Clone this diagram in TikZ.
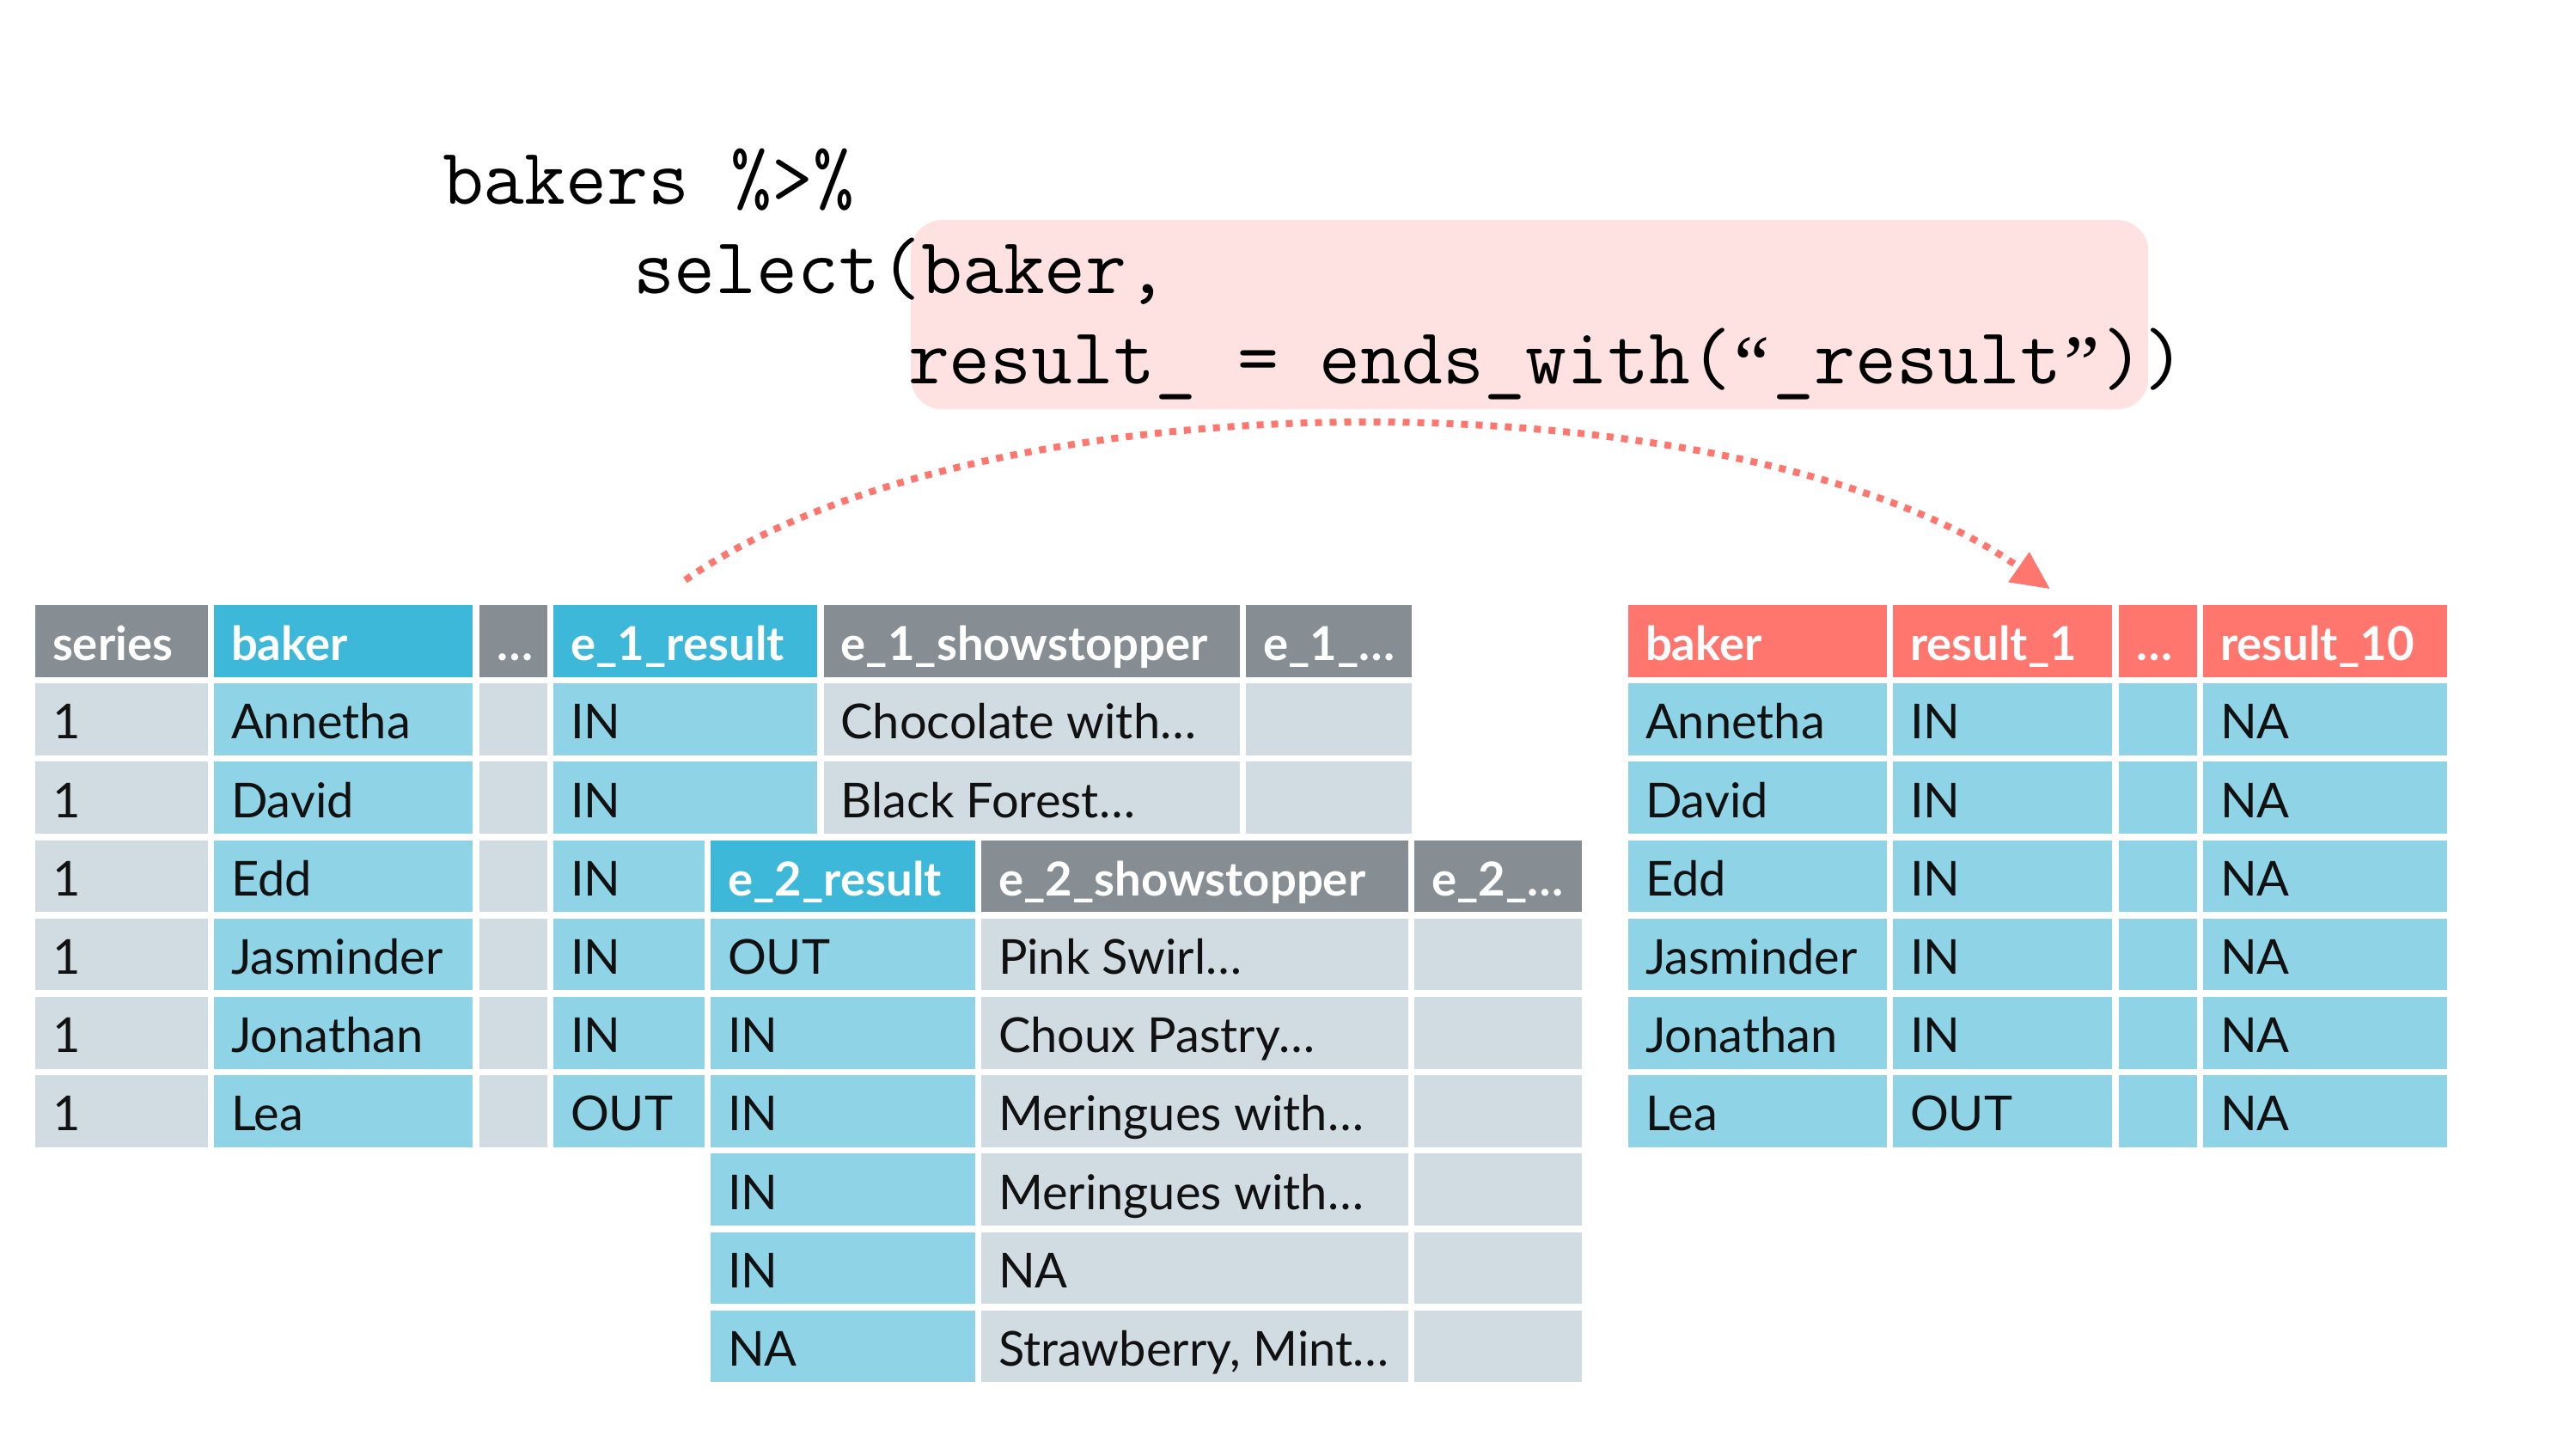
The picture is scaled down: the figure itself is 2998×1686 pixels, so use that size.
\documentclass[tikz,border=0pt]{standalone}
\usepackage{fontspec}
\newfontfamily\lato{Lato}
\newfontfamily\qfont{Liberation Serif}
\usetikzlibrary{arrows.meta}
\definecolor{hgray}{HTML}{868E93}
\definecolor{dgray}{HTML}{D0DCE2}
\definecolor{hblue}{HTML}{3DB8D8}
\definecolor{dblue}{HTML}{8FD4E6}
\definecolor{hred}{HTML}{FF766E}
\definecolor{pinkbg}{HTML}{FEE1E1}
\definecolor{arrred}{HTML}{FF766E}
\definecolor{txt}{HTML}{111111}
\tikzset{
  cellbox/.style={inner sep=0pt, outer sep=0pt, minimum height=83.6pt, draw=none},
  celltext/.style={inner sep=0pt, outer sep=0pt, anchor=base west},
  datatxt/.style={celltext, text=txt, font=\lato\fontsize{56}{68}\selectfont},
  headtxt/.style={celltext, text=white, font=\lato\bfseries\fontsize{54.5}{66}\selectfont},
  codetext/.style={inner sep=0pt, outer sep=0pt, anchor=base west, font=\ttfamily\fontsize{93}{100}\selectfont},
  arrowline/.style={draw=arrred, line width=8pt, dash pattern=on 8pt off 9pt,
    -{Triangle[length=44pt,width=43pt,line width=0pt]}}
}
\newcommand\cq[1]{\makebox[0.525em][c]{\raisebox{-0.08em}{\qfont #1}}}
\newcommand\mkcell[7]{%
  \pgfmathsetmacro\cyt{704+#4*91.2}%
  \pgfmathsetmacro\cww{#3-#2}%
  \node[cellbox, fill=#5, minimum width=\cww pt, anchor=north west] (#1) at (#2,\cyt) {};%
  \node[#6] (#1t) at ([xshift=20pt,yshift=19pt]#1.south west) {#7};%
}
\begin{document}
\begin{tikzpicture}[x=1pt,y=-1pt]
\useasboundingbox (0,0) rectangle (2998,1686);
\path[fill=white] (0,0) rectangle (2998,1686);

% code highlight and code
\node[fill=pinkbg, rounded corners=36pt, inner sep=0pt, minimum width=1440pt, minimum height=220pt, anchor=north west] (hl) at (1060,256) {};
\node[codetext] (c1) at (515,237) {bakers \%>\%};
\node[codetext] (c2) at (737,341.7) {select(baker,};
\node[codetext] (c3) at (1057,446.7) {result\_ = ends\_with(\cq{“}\_result\cq{”}))};

% left table: header row
\mkcell{Ls0}{41}{242}{0}{hgray}{headtxt}{series}
\mkcell{Lb0}{249}{550}{0}{hblue}{headtxt}{baker}
\mkcell{Ld0}{558}{636.5}{0}{hgray}{headtxt}{…}
\mkcell{Le0}{644}{951}{0}{hblue}{headtxt}{e\_1\_result}
\mkcell{Lf0}{958.5}{1442.6}{0}{hgray}{headtxt}{e\_1\_showstopper}
\mkcell{Lg0}{1450}{1643}{0}{hgray}{headtxt}{e\_1\_…}

% series, baker, ... columns
\mkcell{Ls1}{41}{242}{1}{dgray}{datatxt}{1}
\mkcell{Ls2}{41}{242}{2}{dgray}{datatxt}{1}
\mkcell{Ls3}{41}{242}{3}{dgray}{datatxt}{1}
\mkcell{Ls4}{41}{242}{4}{dgray}{datatxt}{1}
\mkcell{Ls5}{41}{242}{5}{dgray}{datatxt}{1}
\mkcell{Ls6}{41}{242}{6}{dgray}{datatxt}{1}
\mkcell{Lb1}{249}{550}{1}{dblue}{datatxt}{Annetha}
\mkcell{Lb2}{249}{550}{2}{dblue}{datatxt}{David}
\mkcell{Lb3}{249}{550}{3}{dblue}{datatxt}{Edd}
\mkcell{Lb4}{249}{550}{4}{dblue}{datatxt}{Jasminder}
\mkcell{Lb5}{249}{550}{5}{dblue}{datatxt}{Jonathan}
\mkcell{Lb6}{249}{550}{6}{dblue}{datatxt}{Lea}
\mkcell{Ld1}{558}{636.5}{1}{dgray}{datatxt}{}
\mkcell{Ld2}{558}{636.5}{2}{dgray}{datatxt}{}
\mkcell{Ld3}{558}{636.5}{3}{dgray}{datatxt}{}
\mkcell{Ld4}{558}{636.5}{4}{dgray}{datatxt}{}
\mkcell{Ld5}{558}{636.5}{5}{dgray}{datatxt}{}
\mkcell{Ld6}{558}{636.5}{6}{dgray}{datatxt}{}

% e_1 columns
\mkcell{Le1}{644}{951}{1}{dblue}{datatxt}{IN}
\mkcell{Le2}{644}{951}{2}{dblue}{datatxt}{IN}
\mkcell{Le3}{644}{819.5}{3}{dblue}{datatxt}{IN}
\mkcell{Le4}{644}{819.5}{4}{dblue}{datatxt}{IN}
\mkcell{Le5}{644}{819.5}{5}{dblue}{datatxt}{IN}
\mkcell{Le6}{644}{819.5}{6}{dblue}{datatxt}{OUT}
\mkcell{Lf1}{958.5}{1442.6}{1}{dgray}{datatxt}{Chocolate with…}
\mkcell{Lf2}{958.5}{1442.6}{2}{dgray}{datatxt}{Black Forest…}
\mkcell{Lg1}{1450}{1643}{1}{dgray}{datatxt}{}
\mkcell{Lg2}{1450}{1643}{2}{dgray}{datatxt}{}

% e_2 columns
\mkcell{Lh3}{827}{1134.6}{3}{hblue}{headtxt}{e\_2\_result}
\mkcell{Li3}{1142}{1639}{3}{hgray}{headtxt}{e\_2\_showstopper}
\mkcell{Lj3}{1646}{1841}{3}{hgray}{headtxt}{e\_2\_…}
\mkcell{Lh4}{827}{1134.6}{4}{dblue}{datatxt}{OUT}
\mkcell{Lh5}{827}{1134.6}{5}{dblue}{datatxt}{IN}
\mkcell{Lh6}{827}{1134.6}{6}{dblue}{datatxt}{IN}
\mkcell{Lh7}{827}{1134.6}{7}{dblue}{datatxt}{IN}
\mkcell{Lh8}{827}{1134.6}{8}{dblue}{datatxt}{IN}
\mkcell{Lh9}{827}{1134.6}{9}{dblue}{datatxt}{NA}
\mkcell{Li4}{1142}{1639}{4}{dgray}{datatxt}{Pink Swirl…}
\mkcell{Li5}{1142}{1639}{5}{dgray}{datatxt}{Choux Pastry…}
\mkcell{Li6}{1142}{1639}{6}{dgray}{datatxt}{Meringues with…}
\mkcell{Li7}{1142}{1639}{7}{dgray}{datatxt}{Meringues with…}
\mkcell{Li8}{1142}{1639}{8}{dgray}{datatxt}{NA}
\mkcell{Li9}{1142}{1639}{9}{dgray}{datatxt}{Strawberry, Mint…}
\mkcell{Lj4}{1646}{1841}{4}{dgray}{datatxt}{}
\mkcell{Lj5}{1646}{1841}{5}{dgray}{datatxt}{}
\mkcell{Lj6}{1646}{1841}{6}{dgray}{datatxt}{}
\mkcell{Lj7}{1646}{1841}{7}{dgray}{datatxt}{}
\mkcell{Lj8}{1646}{1841}{8}{dgray}{datatxt}{}
\mkcell{Lj9}{1646}{1841}{9}{dgray}{datatxt}{}

% right table
\mkcell{Rb0}{1895}{2196}{0}{hred}{headtxt}{baker}
\mkcell{Rr0}{2203}{2458}{0}{hred}{headtxt}{result\_1}
\mkcell{Rd0}{2466}{2557}{0}{hred}{headtxt}{…}
\mkcell{Rt0}{2564}{2847.5}{0}{hred}{headtxt}{result\_10}
\mkcell{Rb1}{1895}{2196}{1}{dblue}{datatxt}{Annetha}
\mkcell{Rb2}{1895}{2196}{2}{dblue}{datatxt}{David}
\mkcell{Rb3}{1895}{2196}{3}{dblue}{datatxt}{Edd}
\mkcell{Rb4}{1895}{2196}{4}{dblue}{datatxt}{Jasminder}
\mkcell{Rb5}{1895}{2196}{5}{dblue}{datatxt}{Jonathan}
\mkcell{Rb6}{1895}{2196}{6}{dblue}{datatxt}{Lea}
\mkcell{Rr1}{2203}{2458}{1}{dblue}{datatxt}{IN}
\mkcell{Rr2}{2203}{2458}{2}{dblue}{datatxt}{IN}
\mkcell{Rr3}{2203}{2458}{3}{dblue}{datatxt}{IN}
\mkcell{Rr4}{2203}{2458}{4}{dblue}{datatxt}{IN}
\mkcell{Rr5}{2203}{2458}{5}{dblue}{datatxt}{IN}
\mkcell{Rr6}{2203}{2458}{6}{dblue}{datatxt}{OUT}
\mkcell{Rd1}{2466}{2557}{1}{dblue}{datatxt}{}
\mkcell{Rd2}{2466}{2557}{2}{dblue}{datatxt}{}
\mkcell{Rd3}{2466}{2557}{3}{dblue}{datatxt}{}
\mkcell{Rd4}{2466}{2557}{4}{dblue}{datatxt}{}
\mkcell{Rd5}{2466}{2557}{5}{dblue}{datatxt}{}
\mkcell{Rd6}{2466}{2557}{6}{dblue}{datatxt}{}
\mkcell{Rt1}{2564}{2847.5}{1}{dblue}{datatxt}{NA}
\mkcell{Rt2}{2564}{2847.5}{2}{dblue}{datatxt}{NA}
\mkcell{Rt3}{2564}{2847.5}{3}{dblue}{datatxt}{NA}
\mkcell{Rt4}{2564}{2847.5}{4}{dblue}{datatxt}{NA}
\mkcell{Rt5}{2564}{2847.5}{5}{dblue}{datatxt}{NA}
\mkcell{Rt6}{2564}{2847.5}{6}{dblue}{datatxt}{NA}

% dotted arrow
\coordinate (aS) at ([yshift=29pt]Le0.north);
\coordinate (aE) at ([xshift=55pt,yshift=19pt]Rr0.north);
\draw[arrowline] (aS) .. controls +(35:432pt) and +(145:432pt) .. (aE);
\end{tikzpicture}
\end{document}
